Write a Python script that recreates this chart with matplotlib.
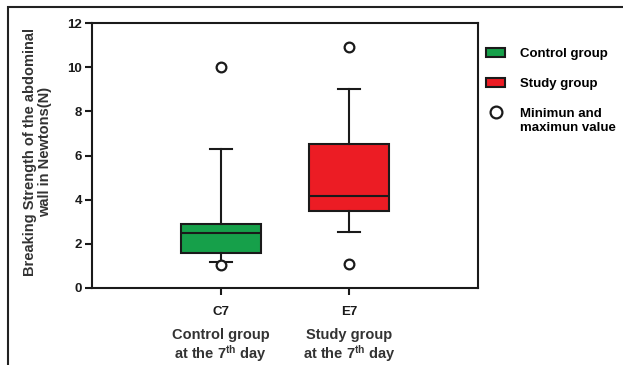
import matplotlib
matplotlib.use("Agg")
import matplotlib.pyplot as plt
from matplotlib.patches import Patch, Rectangle
from matplotlib.lines import Line2D

plt.rcParams['font.family'] = ['Liberation Sans', 'DejaVu Sans']
plt.rcParams['font.weight'] = 'bold'
plt.rcParams['mathtext.default'] = 'regular'

# Data
groups = ["C7", "E7"]
group_desc = ["Control group\nat the 7$^{th}$ day", "Study group\nat the 7$^{th}$ day"]
q1 = [1.6, 3.5]
median = [2.5, 4.15]
q3 = [2.9, 6.5]
whisker_low = [1.2, 2.55]
whisker_high = [6.3, 9.0]
min_values = [1.05, 1.1]
max_values = [10.0, 10.9]
colors = ["#16a04a", "#ec1c24"]
legend_labels = ["Control group", "Study group", "Minimun and"]
legend_label_cont = "maximun value"
yticks = [0, 2, 4, 6, 8, 10, 12]

W, H = 623, 365
fig = plt.figure(figsize=(W / 100, H / 100), dpi=100)
ax = fig.add_axes([92 / W, 1 - 288 / H, (478 - 92) / W, (288 - 23) / H])

stats = []
for i in range(len(groups)):
    stats.append(dict(label=groups[i], med=median[i], q1=q1[i], q3=q3[i],
                      whislo=whisker_low[i], whishi=whisker_high[i],
                      fliers=[min_values[i], max_values[i]]))

lw = 1.5
bp = ax.bxp(stats, positions=[1, 2], widths=0.62, patch_artist=True,
            capwidths=0.17,
            boxprops=dict(linewidth=lw, edgecolor='#1a1a1a'),
            whiskerprops=dict(linewidth=lw, color='#1a1a1a'),
            capprops=dict(linewidth=lw, color='#1a1a1a'),
            medianprops=dict(linewidth=lw, color='#1a1a1a'),
            flierprops=dict(marker='o', markersize=7, markerfacecolor='white',
                            markeredgecolor='#1a1a1a', markeredgewidth=1.6))
for patch, c in zip(bp['boxes'], colors):
    patch.set_facecolor(c)

ax.set_xlim(0, 3)
ax.set_ylim(0, 12)
ax.set_yticks(yticks)
ax.set_xticks([1, 2])
ax.set_xticklabels(groups)
for s in ax.spines.values():
    s.set_linewidth(1.5)
    s.set_color('#1a1a1a')
ax.tick_params(axis='both', width=1.5, length=5, labelsize=9.5, colors='#1a1a1a', pad=2)
ax.tick_params(axis='x', pad=8)

ax.set_ylabel("Breaking Strength of the abdominal\nwall in Newtons(N)", fontsize=10.5,
              fontweight='bold', color='#333333', linespacing=1.05)
ax.yaxis.set_label_coords(-0.104, 0.515)

for i, d in enumerate(group_desc):
    ax.text(i + 1, -0.15, d, transform=ax.get_xaxis_transform(), ha='center', va='top',
            fontsize=10.5, fontweight='bold', color='#333333', linespacing=1.1)

handles = [Patch(facecolor=colors[0], edgecolor='#1a1a1a', linewidth=1.5),
           Patch(facecolor=colors[1], edgecolor='#1a1a1a', linewidth=1.5),
           Line2D([], [], linestyle='none', marker='o', markersize=8.5, markerfacecolor='white',
                  markeredgecolor='#1a1a1a', markeredgewidth=1.6)]
leg = fig.legend(handles, legend_labels, loc='upper left', bbox_to_anchor=(486 / W, 1 - 48 / H),
                 frameon=False, fontsize=9.5, handlelength=1.45, handleheight=0.7,
                 handletextpad=1.1, labelspacing=1.33, borderaxespad=0, borderpad=0)

# second line of the third legend label, aligned under its first line
fig.canvas.draw()
bb = leg.get_texts()[2].get_window_extent().transformed(fig.transFigure.inverted())
fig.text(bb.x0, bb.y0 - 0.005, legend_label_cont, ha='left', va='top', fontsize=9.5,
         fontweight='bold')

# outer frame of the figure panel (cropped on right and bottom)
fig.patches.append(Rectangle((8 / W, -0.1), 1.2, 1 - 7 / H + 0.1, transform=fig.transFigure,
                             fill=False, edgecolor='#222222', linewidth=1.5))

fig.savefig("out.png", dpi=100)
